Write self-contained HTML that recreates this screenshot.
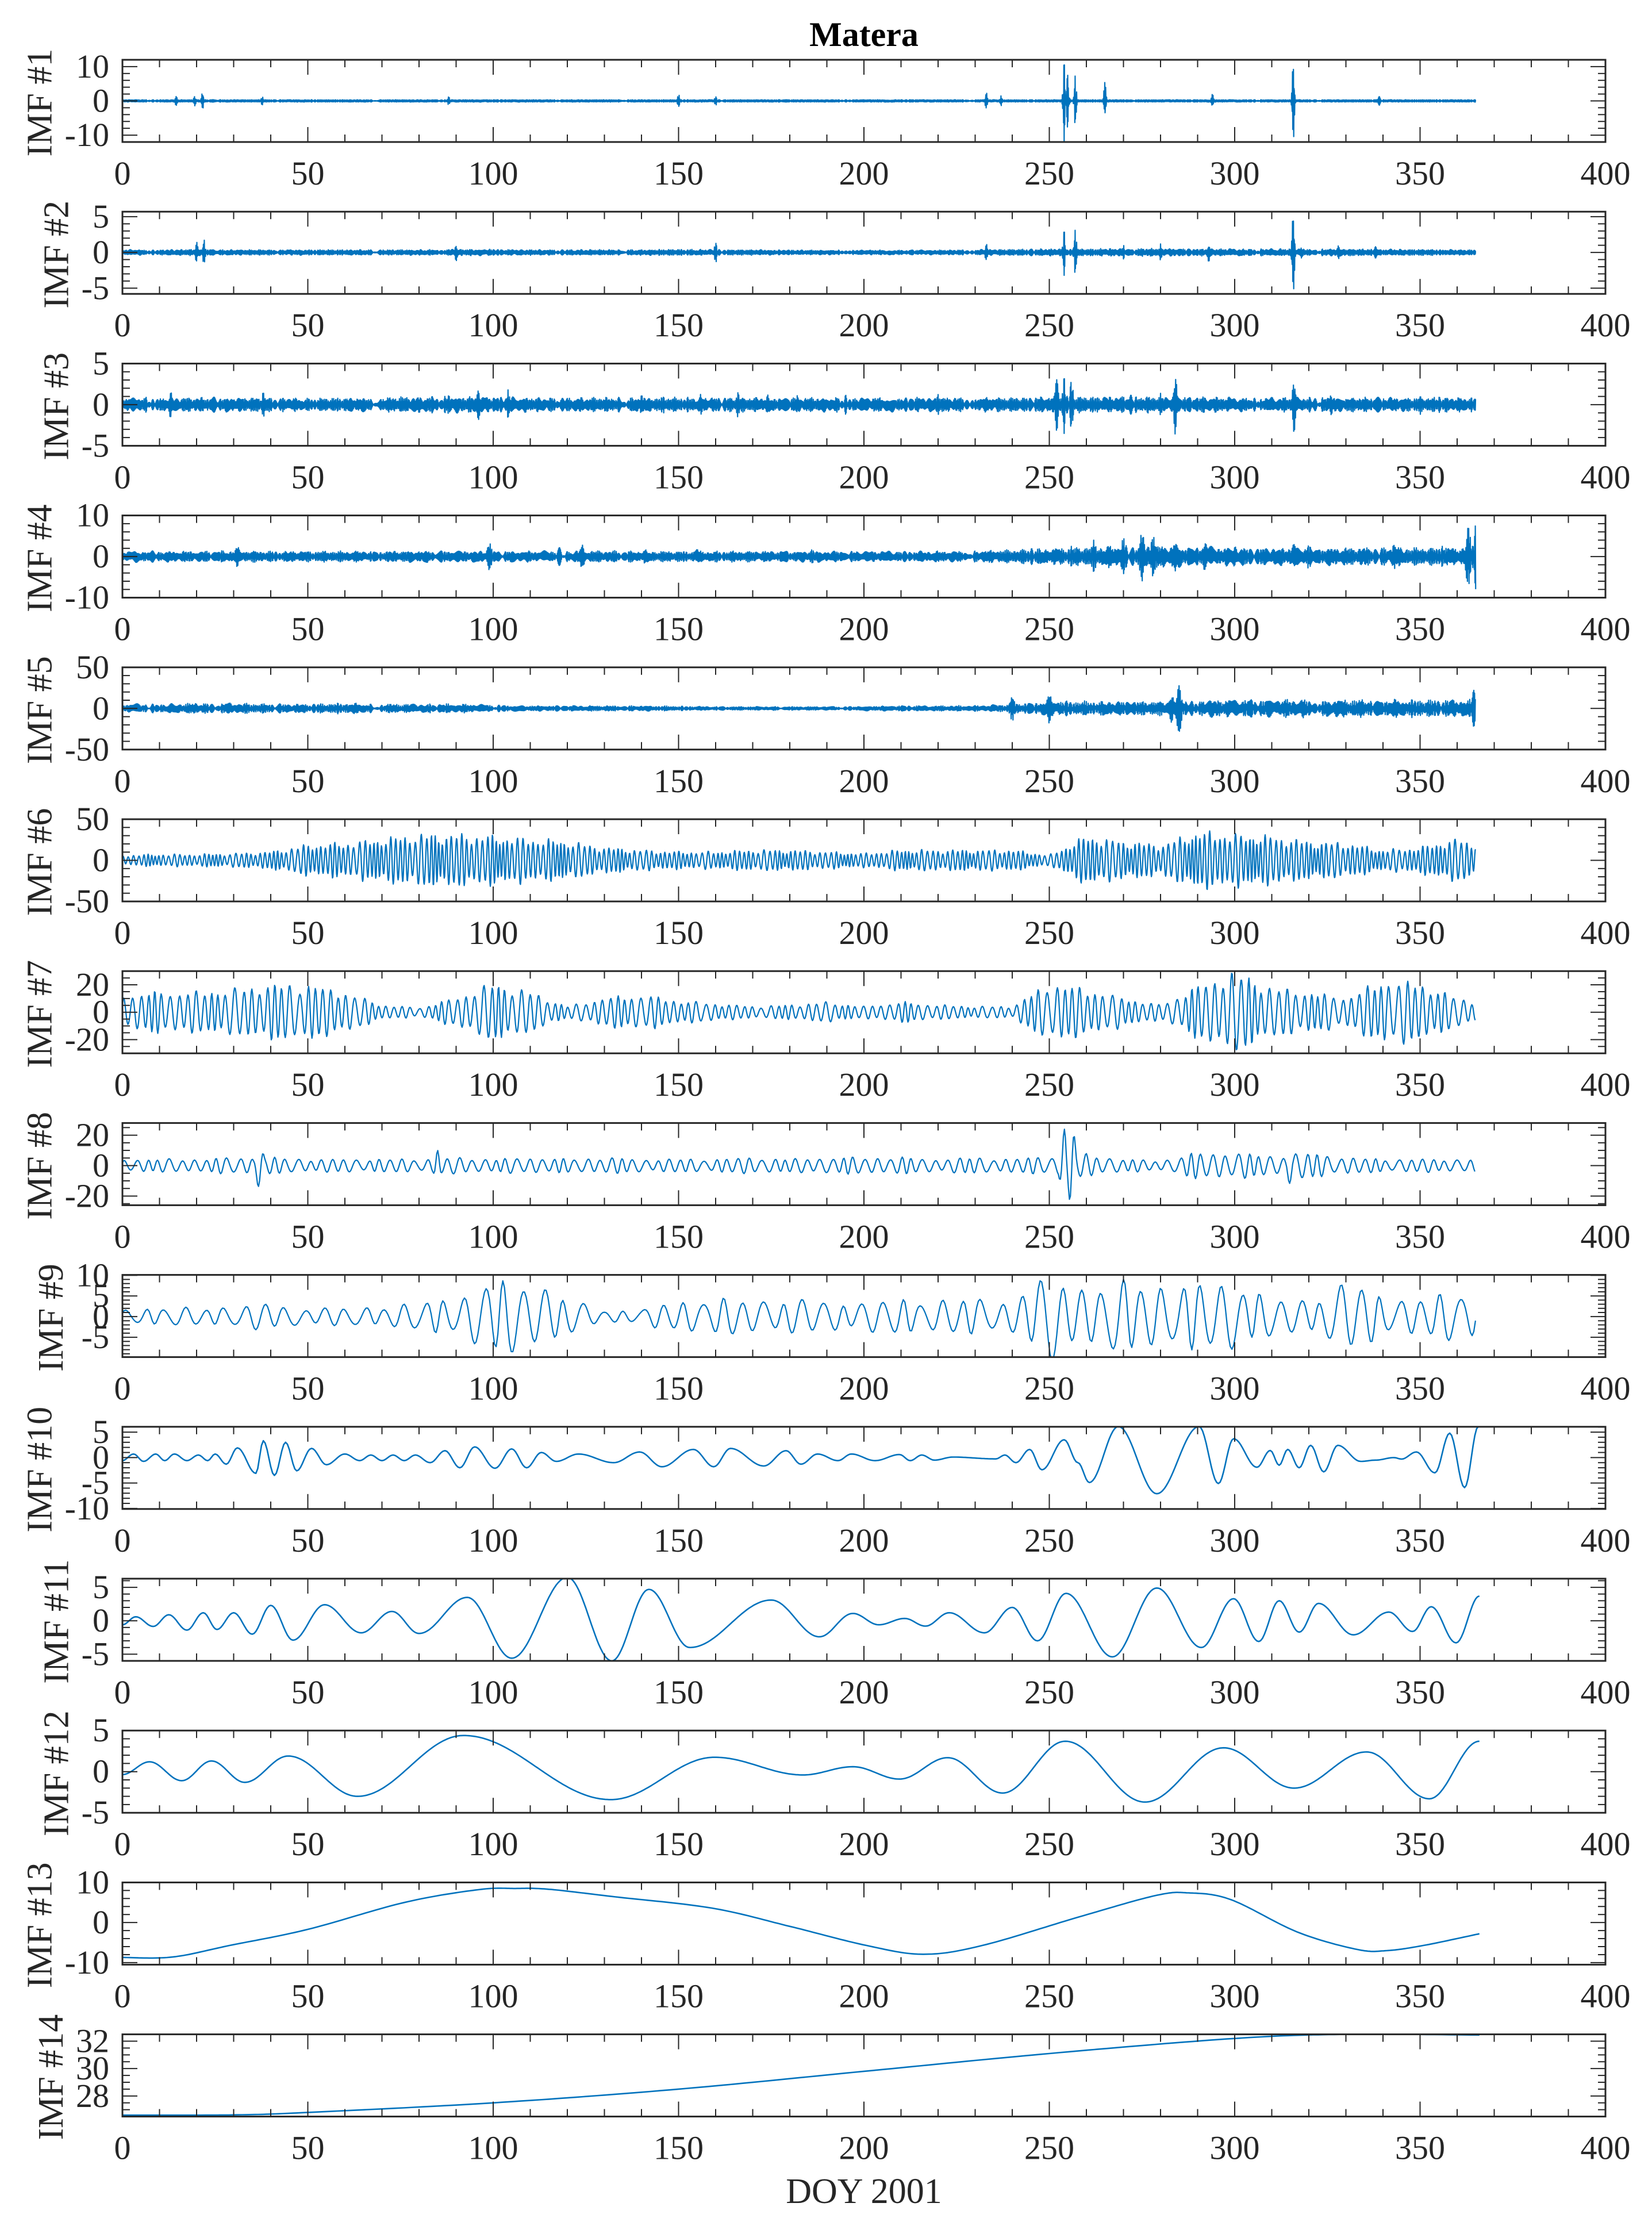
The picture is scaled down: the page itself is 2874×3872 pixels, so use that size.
<!DOCTYPE html>
<html><head><meta charset="utf-8">
<style>
html,body{margin:0;padding:0;background:#fff;}
svg{display:block;}
</style></head>
<body>
<svg id="fig" xmlns="http://www.w3.org/2000/svg" width="2874" height="3872" viewBox="0 0 2874 3872">
<rect x="0" y="0" width="2874" height="3872" fill="#fff"/>
<text x="1503" y="80" text-anchor="middle" font-family="Liberation Serif, serif" font-weight="bold" font-size="60" fill="#000">Matera</text>
<text x="1503" y="3832" text-anchor="middle" font-family="Liberation Serif, serif" font-size="62" fill="#262626">DOY 2001</text>
<g id="panels"></g>
</svg>
<script>
// ---- shared axis data ----
const xTickValues = [0,50,100,150,200,250,300,350,400];
const xLimits = [0,400];
const dataStart = 0, dataEnd = 365;

// ---- oscillatory IMFs (1-9): envelope every 10 days (day 0..370), spikes ----
const env1 = [0.3,0.3,0.3,0.3,0.3,0.3,0.3,0.3,0.3,0.3,0.3,0.3,0.3,0.3,0.3,0.3,0.3,0.3,0.3,0.3,0.3,0.3,0.3,0.3,0.3,0.3,0.3,0.3,0.3,0.3,0.3,0.3,0.3,0.3,0.3,0.3,0.3,0.3];
const spikeDays1 = [14.5,19.5,21.6,37.7,88,150,160,233,237,254,255,257,265,294,315.8,339];
const spikeAmps1 = [1.5,1.5,2.5,1.3,1.3,2,1.4,2.5,1.5,12,9,7.5,5.5,2,12,1.3];

const env2 = [0.35,0.35,0.4,0.35,0.35,0.35,0.35,0.35,0.35,0.4,0.4,0.35,0.35,0.35,0.35,0.4,0.35,0.35,0.3,0.3,0.3,0.3,0.3,0.35,0.4,0.45,0.45,0.5,0.5,0.45,0.45,0.45,0.45,0.45,0.4,0.4,0.35,0.35];
const spikeDays2 = [20,22,90,160,233,254,257,270,280,293,315.8,318,328,338];
const spikeAmps2 = [1.5,1.8,1.2,1.5,1.2,3.2,3.2,1,1.2,1.3,5.7,0.8,1,0.8];

const env3 = [0.8,0.8,0.8,0.8,0.8,0.7,0.8,0.8,0.9,0.9,0.9,0.8,0.8,0.8,0.8,0.8,0.8,0.8,0.8,0.8,0.8,0.8,0.8,0.8,0.8,0.9,0.9,0.9,0.9,0.9,0.8,0.8,0.8,0.8,0.8,0.8,0.8,0.8];
const spikeDays3 = [13,38,75,88,96,104,118,140,146,156,166,174,182,195,220,252,254,256,272,280,284,316,326,350,355];
const spikeAmps3 = [1.7,1.6,1.0,1.2,2.0,1.8,1.0,1.2,1.0,1.3,1.6,1.2,1.1,1.2,1.3,3.6,3.5,3.3,1.6,1.4,3.7,3.4,1.3,1.2,1.2];

const env4 = [1.3,1.2,1.2,1.3,1.2,1.2,1.2,1.2,1.3,1.3,1.3,1.2,1.3,1.3,1.2,1.2,1.2,1.2,1.2,1.2,1.2,1.2,1.2,1.3,1.5,1.8,2.2,2.5,2.5,2.3,2,2,2,2,2,2,2,2];
const spikeDays4 = [31,99,118,124,141,155,186,212,245,256,262,270,275,278,284,292,300,316,320,335,343,356,363,365];
const spikeAmps4 = [2.5,3.3,3,2.8,1.7,1.7,1.7,1.7,2.2,2.5,4,4.5,6,5,3.5,3.5,2.5,3,3,2,3,2.5,7.5,8];

const env5 = [5,5,6,6,5,5,6,5,5,5,4,3,3,3,3,2.5,2,2,2,2,2.5,3,3,3,5,9,8,8,8,10,10,10,10,10,10,10,10,10];
const spikeDays5 = [240,250,255,283,285,365];
const spikeAmps5 = [15,18,12,17,32,45];

const env6 = [6,7,7,8,10,18,20,25,30,30,28,25,22,15,12,10,10,12,12,10,8,12,12,12,12,6,28,22,18,33,30,28,22,20,12,15,25,15];
const spikeDays6 = [];
const spikeAmps6 = [];

const env7 = [12,14,14,16,19,19,14,5,3,10,20,14,4,10,12,8,6,4,5,7,4,7,5,4,4,20,16,10,5,18,28,17,14,10,22,20,10,5];
const spikeDays7 = [];
const spikeAmps7 = [];

const env8 = [4,4,4,5,5,4,4,4,4,5,4,5,4,5,4,4,4,5,4,5,5,5,4,5,4,6,7,4,3,8,8,6,8,5,4,4,4,4];
const spikeDays8 = [37,85,254,256,260,315];
const spikeAmps8 = [15,10,24,27,8,12];

const env9 = [2,2,2,2.5,3,2,2,2.5,3,5,8,9,4,1.5,1.5,4,4,4,4,3.5,3.5,4,4,4,4,10,7,8,8,7,9,4,4,8,5,4,6,6];
const spikeDays9 = [];
const spikeAmps9 = [];

// ---- smooth IMFs (10-14): extrema days & values ----
const days10 = [0,3,5.7,9,11.4,14,17.4,20.5,23,25,28,31,36,38,41,44,47,51,55,60,64,67,70,73,76,79,83,87,91,95,100.5,105,109,113,117,123,132.5,139.5,145.5,154,159.5,164,173,179,183,187.5,193,196.6,203,209.6,212.5,215.6,219,224,235.6,238,241,244.7,248,254,257.7,260.8,268.6,279,290.4,295.6,299.7,306,309.6,312,314.3,317.4,320.5,324,327.8,334,338,343,345,349,354,358,362,365.7];
const vals10 = [-0.6,0.7,-0.75,0.7,-0.6,0.7,-0.6,0.5,-0.6,0.7,-1.3,1.9,-3.1,3.3,-3.5,3,-2.6,1.8,-1.4,0.7,-0.6,0.5,-0.6,0.5,-0.6,0.5,-1,1.35,-2,2.1,-2.1,1.7,-2,1,-0.75,0.7,-1,1.1,-1.8,1.6,-1.8,1.8,-1.65,1.35,-1.3,0.7,-0.6,0.7,-0.6,0.6,-0.6,0.5,-0.5,0.1,-0.26,0.5,-1,1.6,-2.4,3.5,-1,-4.9,6.1,-7.1,6.1,-5.1,3.7,-1.9,1.4,-1.5,1.6,-2,2.4,-2.8,2.4,-0.75,-0.5,0,-0.3,1.1,-3,4.8,-5.9,6.1];

const days11 = [0,3.6,8.3,12.5,17.4,21.8,25.5,30,35,40,46,54.5,64.4,72.7,80,93,105,120,132,142,153,175,188,197,204,211,216.6,223,232.5,240,246.8,254.5,267,279,291,299.7,306.5,312,317.4,322.6,332,341.6,348,353,359.7,366];
const vals11 = [-0.6,0.6,-0.85,0.9,-1.4,1.2,-1.3,1.2,-2,2.3,-2.9,2.4,-1.8,1.4,-1.9,3.5,-5.6,6.5,-6,4.7,-4,3.1,-2.4,1.1,-0.6,0.35,-0.8,1.2,-1.8,2,-3,4.1,-5.4,4.9,-4,3.3,-3.1,3,-1.7,2.6,-2.1,1.3,-1.6,2.1,-3.3,3.7];

const days12 = [0,7.3,16,24,33,44.7,63.4,92,131.7,159.7,183.6,197,209.6,222.6,237.4,254.3,275.8,297,316,335.6,352.5,366];
const vals12 = [-0.35,1.2,-1.1,1.3,-1.3,1.9,-3,4.4,-3.4,1.75,-0.4,0.6,-0.9,1.7,-2.6,3.7,-3.7,2.9,-2,2.4,-3.3,3.7];

const days13 = [0,13.5,29,50,76,96,106,115,133,159,180,200.6,216,232,258,278.5,287.5,299,317,333,341,351,366];
const vals13 = [-8.7,-8.6,-5.7,-1.7,5,8.2,8.5,8.3,6.4,3.6,-0.95,-5.7,-7.9,-5.7,1.4,6.7,7.4,5.7,-2.4,-6.7,-7,-5.7,-2.8];

const days14 = [0,30,50,100,150,200,250,300,330,366];
const vals14 = [26.6,26.62,26.8,27.5,28.5,29.8,31.1,32.2,32.5,32.45];

// ---- per-panel y-axis tick labels ----
const yTicks = [[-10,0,10],[-5,0,5],[-5,0,5],[-10,0,10],[-50,0,50],[-50,0,50],[-20,0,20],[-20,0,20],[-5,0,5,10],[-10,-5,0,5],[-5,0,5],[-5,0,5],[-10,0,10],[28,30,32]];
const yLims = [[-12,12],[-5.8,5.7],[-5,5],[-10,10],[-50,50],[-50,50],[-30,30],[-26,28],[-9.8,10.1],[-10.1,6.05],[-6,6.3],[-5,5],[-10.5,10],[26.5,32.5]];
const yMinor = [2,1,1,2,10,10,5,5,1,1,1,1,2,0.5];

// ---- rendering ----
const NS = "http://www.w3.org/2000/svg";
const X0 = 213, X1 = 2793, TOP0 = 104, STEP = 264.2, H = 143;
const FONT = "Liberation Serif, serif";
const root = document.getElementById('panels');
function mk(tag, attrs, parent){ const e=document.createElementNS(NS,tag); for(const k in attrs) e.setAttribute(k,attrs[k]); parent.appendChild(e); return e; }
function xScale(d){ return X0 + (d - xLimits[0])/(xLimits[1]-xLimits[0])*(X1-X0); }

const oscEnv = [env1,env2,env3,env4,env5,env6,env7,env8,env9];
const oscSpikeDays = [spikeDays1,spikeDays2,spikeDays3,spikeDays4,spikeDays5,spikeDays6,spikeDays7,spikeDays8,spikeDays9];
const oscSpikeAmps = [spikeAmps1,spikeAmps2,spikeAmps3,spikeAmps4,spikeAmps5,spikeAmps6,spikeAmps7,spikeAmps8,spikeAmps9];
const oscPeriod = [0.21,0.21,0.21,0.23,0.26,1.3,2.2,3.2,5.5];
const oscDt = [0.08,0.08,0.08,0.085,0.1,0.11,0.18,0.27,0.45];
const spikeW = [0.35,0.4,0.5,0.8,0.8,1,1,1.3,2];
const burstLen = [1.3,1.7,2.3,2.9,3.1,5.3,7.1,9.7,13.3];
const burstDepth = [0.3,0.5,0.55,0.55,0.55,0.45,0.4,0.4,0.45];

function envAt(p,t){
  const e = oscEnv[p]; const f=t/10; const i=Math.min(Math.floor(f), e.length-2); const r=f-i;
  let v = e[i]*(1-r)+e[i+1]*r;
  const m = 1 - burstDepth[p]*(0.5+0.5*Math.sin(2*Math.PI*t/burstLen[p]) * Math.cos(2*Math.PI*t/(burstLen[p]*2.7)));
  v *= m*1.15;
  const sd=oscSpikeDays[p], sa=oscSpikeAmps[p];
  for(let k=0;k<sd.length;k++){ const s=sa[k]*Math.exp(-Math.pow((t-sd[k])/spikeW[p],2)); if(s>v) v=s; }
  return v;
}
function cosInterp(days, vals){
  const pts=[];
  for(let k=0;k<days.length-1;k++){
    const d0=days[k], d1=days[k+1], v0=vals[k], v1=vals[k+1];
    const n=Math.max(4, Math.ceil((d1-d0)*2));
    for(let j=0;j<n;j++){ const r=j/n; const m=(1-Math.cos(Math.PI*r))/2; pts.push([d0+(d1-d0)*r, v0+(v1-v0)*m]); }
  }
  pts.push([days[days.length-1], vals[vals.length-1]]);
  return pts;
}
function catmull(days, vals){
  const pts=[]; const n=days.length;
  for(let k=0;k<n-1;k++){
    const p0=[days[Math.max(k-1,0)],vals[Math.max(k-1,0)]], p1=[days[k],vals[k]], p2=[days[k+1],vals[k+1]], p3=[days[Math.min(k+2,n-1)],vals[Math.min(k+2,n-1)]];
    const m=20;
    for(let j=0;j<m;j++){
      const t=j/m, t2=t*t, t3=t2*t;
      const f=(a,b,c,d)=>0.5*((2*b)+(-a+c)*t+(2*a-5*b+4*c-d)*t2+(-a+3*b-3*c+d)*t3);
      pts.push([f(p0[0],p1[0],p2[0],p3[0]), f(p0[1],p1[1],p2[1],p3[1])]);
    }
  }
  pts.push([days[n-1],vals[n-1]]);
  return pts;
}
const smoothDays=[days10,days11,days12,days13,days14];
const smoothVals=[vals10,vals11,vals12,vals13,vals14];

for(let p=0;p<14;p++){
  const top = TOP0 + p*STEP, bot = top + H;
  const yl = yLims[p];
  const yS = v => bot - (v-yl[0])/(yl[1]-yl[0])*H;
  const g = mk('g',{},root);
  
  

  const cp = mk('clipPath',{id:'clip'+p},g);
  mk('rect',{x:X0,y:top,width:X1-X0,height:H},cp);

  let pts=[];
  if(p<9){
    const P=oscPeriod[p], dt=oscDt[p];
    let ph=0;
    for(let t=dataStart;t<=dataEnd;t+=dt){
      const Pt = P*(1+0.3*Math.sin(2*Math.PI*t/37)*Math.sin(2*Math.PI*t/11));
      ph += 2*Math.PI*dt/Pt;
      pts.push([t, envAt(p,t)*Math.sin(ph)]);
    }
  } else if(p<12){
    pts = cosInterp(smoothDays[p-9], smoothVals[p-9]);
  } else {
    pts = catmull(smoothDays[p-9], smoothVals[p-9]);
  }
  let d='';
  pts.forEach((q,i)=>{ d += (i?'L':'M') + xScale(q[0]).toFixed(1) + ' ' + yS(q[1]).toFixed(1); });
  const line = mk('path',{d:d,fill:'none',stroke:'#0072BD','stroke-width':p<9?2.2:2.6,'stroke-linejoin':'round','clip-path':'url(#clip'+p+')'},g);
  
  

  const tk = mk('g',{stroke:'#262626','stroke-width':2},g);
  for(let v=0; v<=400; v+=10){
    const x=xScale(v); const L = (v%50===0)?26:13;
    mk('line',{x1:x,y1:bot,x2:x,y2:bot-L},tk);
    mk('line',{x1:x,y1:top,x2:x,y2:top+L},tk);
  }
  const mstep=yMinor[p];
  const startV = Math.ceil(yl[0]/mstep-1e-6)*mstep;
  for(let v=startV; v<=yl[1]+1e-6; v+=mstep){
    const y=yS(v); const isMaj = yTicks[p].some(t=>Math.abs(t-v)<1e-6); const L=isMaj?26:13;
    mk('line',{x1:X0,y1:y,x2:X0+L,y2:y},tk);
    mk('line',{x1:X1,y1:y,x2:X1-L,y2:y},tk);
  }
  const box = mk('rect',{x:X0,y:top,width:X1-X0,height:H,fill:'none',stroke:'#262626','stroke-width':3},g);
  
  

  xTickValues.forEach(v=>{
    const t = mk('text',{x:xScale(v),y:bot+74,'text-anchor':'middle','font-family':FONT,'font-size':58,fill:'#262626'},g);
    t.textContent = String(v);
    
    
  });
  let maxW=0;
  yTicks[p].forEach(v=>{
    const s=String(v);
    const w = 58*(0.5*s.replace('-','').length + (s.indexOf('-')>=0?0.333:0));
    if(w>maxW) maxW=w;
    const t = mk('text',{x:190,y:yS(v)+19,'text-anchor':'end','font-family':FONT,'font-size':58,fill:'#262626'},g);
    t.textContent = s;
    
    
  });
  const bx = 190 - maxW - 23, cy = top + H/2 + 3;
  const yl2 = mk('text',{x:0,y:0,transform:'translate('+bx+','+cy+') rotate(-90)','text-anchor':'middle','font-family':FONT,'font-size':62,fill:'#262626'},g);
  yl2.textContent = 'IMF #'+(p+1);
  
  
}
</script>
</body></html>
